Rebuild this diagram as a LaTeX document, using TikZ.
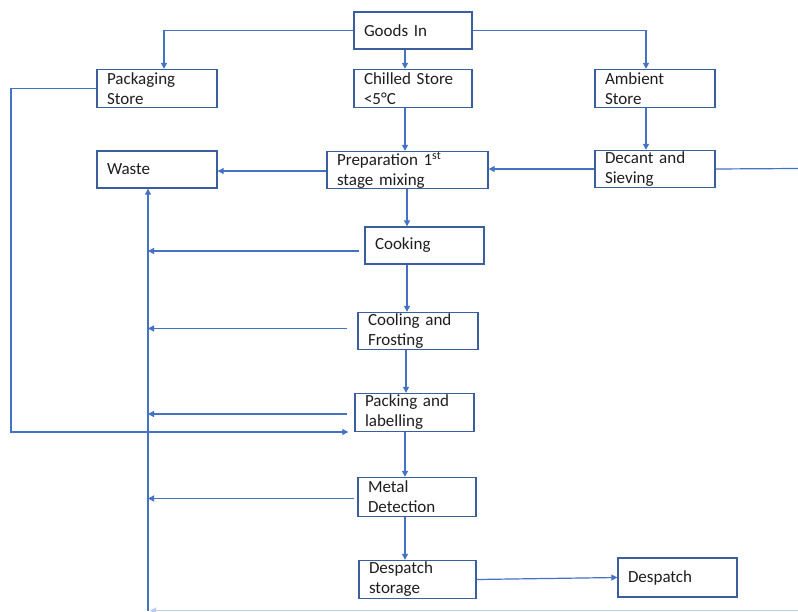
\documentclass[tikz,border=0pt]{standalone}
\usepackage{fontspec}
\setmainfont{Carlito}
\usetikzlibrary{arrows.meta}
\definecolor{lineblue}{HTML}{4472C4}
\definecolor{boxblue}{HTML}{3A5E9E}
\definecolor{txt}{HTML}{1E1E1E}
\begin{document}
\begin{tikzpicture}[x=1pt,y=-1pt,
  box/.style={draw=boxblue, line width=1.4pt, rectangle, align=left, inner xsep=10pt, inner ysep=0pt,
    font=\fontsize{17}{20}\selectfont, text=txt},
  conn/.style={draw=lineblue, line width=1.2pt},
  arr/.style={conn, -{Triangle[length=6pt,width=6pt]}}]
\useasboundingbox (0,0) rectangle (798,612);
\fill[white] (0,0) rectangle (798,612);
% boxes
\node[box, text width=98pt, minimum height=37pt] (goods) at (413,30.5) {Goods In};
\node[box, text width=100pt, minimum height=38pt] (pack) at (157,88.5) {Packaging\\Store};
\node[box, text width=98pt, minimum height=38pt] (chill) at (413,88.5) {Chilled Store\\<5°C};
\node[box, text width=100pt, minimum height=38pt] (amb) at (655,88.5) {Ambient\\Store};
\node[box, text width=100pt, minimum height=37pt] (waste) at (157,169.5) {Waste};
\node[box, text width=141pt, minimum height=37pt] (prep) at (407.5,170) {Preparation 1\textsuperscript{st}\\stage mixing};
\node[box, text width=100pt, minimum height=37pt] (decant) at (655,169) {Decant and\\Sieving};
\node[box, text width=99pt, minimum height=37pt] (cook) at (424.5,245.5) {Cooking};
\node[box, text width=100pt, minimum height=37pt] (cool) at (418,331) {Cooling and\\Frosting};
\node[box, text width=99pt, minimum height=38pt] (packl) at (414.5,412.5) {Packing and\\labelling};
\node[box, text width=98pt, minimum height=39pt] (metal) at (417,497) {Metal\\Detection};
\node[box, text width=97pt, minimum height=38pt] (dstore) at (417.5,579.5) {Despatch\\storage};
\node[box, text width=99pt, minimum height=39pt] (desp) at (677.5,577.5) {Despatch};
% helper coordinates
\coordinate (c405) at (405,0);
\coordinate (c407) at (407,0);
\coordinate (c406) at (406,0);
\coordinate (c646) at (646,0);
\coordinate (c164) at (164,0);
\coordinate (wbot) at (148,611);
\coordinate (rightend) at (798,168.5);
\coordinate (loopc) at (11,432);
\coordinate (botright) at (798,610.5);
% top distribution
\draw[arr] (goods.west) -| (c164 |- pack.north);
\draw[arr] (goods.east) -| (c646 |- amb.north);
\draw[arr] (goods.south -| c405) -- (chill.north -| c405);
\draw[arr] (chill.south -| c405) -- (prep.north -| c405);
\draw[arr] (amb.south -| c646) -- (decant.north -| c646);
\draw[arr] (decant.west) -- (prep.east |- decant.west);
\draw[conn] (decant.east) -- (rightend);
\draw[arr] ([yshift=-1pt]prep.west) -- ([yshift=-1pt]waste.east |- prep.west);
% main chain
\draw[arr] (prep.south -| c407) -- (cook.north -| c407);
\draw[arr] (cook.south -| c407) -- (cool.north -| c407);
\draw[arr] (cool.south -| c406) -- (packl.north -| c406);
\draw[arr] (packl.south -| c405) -- (metal.north -| c405);
\draw[arr] (metal.south -| c405) -- (dstore.north -| c405);
\draw[arr] (dstore.east) -- (desp.west);
% waste returns
\draw[arr] (wbot) -- (waste.south -| wbot);
\draw[arr] ([xshift=-5pt,yshift=-5.5pt]cook.west) -- ([yshift=-5.5pt]cook.west -| wbot);
\draw[arr] ([xshift=-10pt,yshift=2.5pt]cool.west) -- ([yshift=2.5pt]cool.west -| wbot);
\draw[arr] ([xshift=-7pt,yshift=-1.5pt]packl.west) -- ([yshift=-1.5pt]packl.west -| wbot);
\draw[arr] ([xshift=-3pt,yshift=-1.5pt]metal.west) -- ([yshift=-1.5pt]metal.west -| wbot);
\draw[arr, draw=lineblue!35] (botright) -- ([xshift=2pt]wbot |- botright);
% packaging loop
\draw[arr] (pack.west) -| (loopc) -- ([xshift=-6pt]packl.west |- loopc);
\end{tikzpicture}
\end{document}
